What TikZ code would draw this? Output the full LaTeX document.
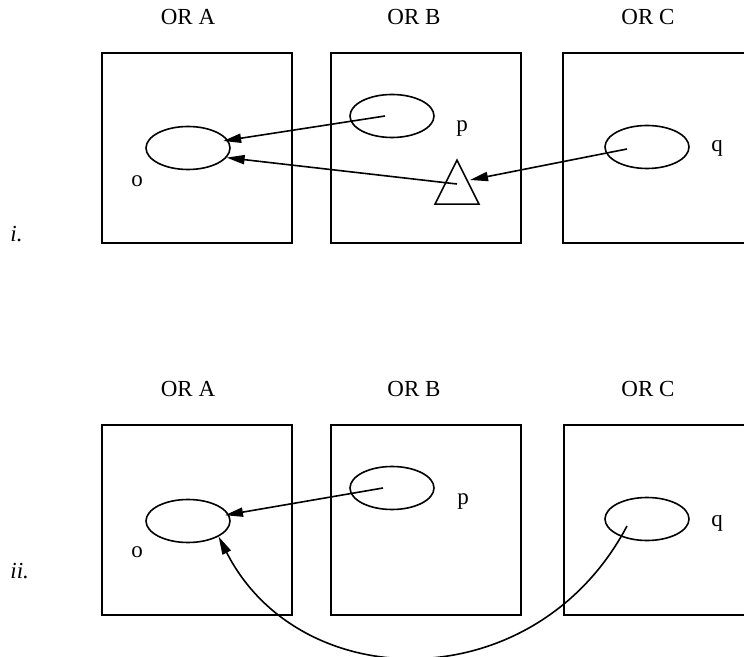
\documentclass[tikz,border=0pt]{standalone}
\usepackage{fontspec}
\setmainfont{Liberation Serif}
\usetikzlibrary{arrows.meta}
\usetikzlibrary{shapes.geometric}

\begin{document}
\begin{tikzpicture}[x=0.5pt,y=-0.5pt,
		font=\fontsize{11.5}{13}\selectfont,
		orbox/.style={draw=black,line width=0.8pt,minimum width=95pt,minimum height=95pt,inner sep=0pt},
		objell/.style={ellipse,draw=black,line width=0.8pt,minimum width=42pt,minimum height=21.5pt,inner sep=0pt},
		ptr/.style={-{Triangle[length=9pt,width=4.6pt]},line width=0.8pt},
		lbl/.style={anchor=base,inner sep=0pt}]

		\useasboundingbox (0,0) rectangle (744,657);

		% row i.
		\node[orbox] (boxA1) at (197,148) {};
		\node[orbox] (boxB1) at (426,148) {};
		\node[orbox] (boxC1) at (658,148) {};
		\node[lbl] (orA1) at (188,25) {OR A};
		\node[lbl] (orB1) at (414,25) {OR B};
		\node[lbl] (orC1) at (648,25) {OR C};

		\node[objell] (o1) at (188,148) {};
		\node[objell] (p1) at (392,116) {};
		\node[objell] (q1) at (647,147) {};
		\node[lbl] (lo1) at (137,187) {o};
		\node[lbl] (lp1) at (462,132) {p};
		\node[lbl] (lq1) at (717,152) {q};
		\node[isosceles triangle,isosceles triangle stretches,shape border rotate=90,draw=black,line width=0.8pt,minimum width=22pt,minimum height=22pt,inner sep=0pt,anchor=apex] (tri) at (457,158) {};
		\node[lbl,anchor=base west] (row1) at (10,242) {\textit{i.}};

		\draw[ptr,shorten >=-2.5pt] ([xshift=-3.5pt]p1.center) -- (o1.11);
		\draw[ptr] ([yshift=-13pt]tri.apex) -- (o1.-14);
		\draw[ptr] ([xshift=-10pt,yshift=-1pt]q1.center) -- ([xshift=6.5pt,yshift=-11pt]tri.apex);

		% row ii.
		\node[orbox] (boxA2) at (197,520) {};
		\node[orbox] (boxB2) at (426,520) {};
		\node[orbox] (boxC2) at (659,520) {};
		\node[lbl] (orA2) at (188,397) {OR A};
		\node[lbl] (orB2) at (414,397) {OR B};
		\node[lbl] (orC2) at (648,397) {OR C};

		\node[objell] (o2) at (188,521) {};
		\node[objell] (p2) at (392,488) {};
		\node[objell] (q2) at (647,519) {};
		\node[lbl] (lo2) at (137,557) {o};
		\node[lbl] (lp2) at (463,504) {p};
		\node[lbl] (lq2) at (717,526) {q};
		\node[lbl,anchor=base west] (row2) at (10,578) {\textit{ii.}};

		\draw[ptr,shorten >=-2pt] ([xshift=-4.5pt]p2.center) -- (o2.9);
		\draw[ptr] ([xshift=-10pt,yshift=-3.5pt]q2.center) .. controls (535,700) and (300,697) .. (o2.-27);

\end{tikzpicture}
\end{document}
